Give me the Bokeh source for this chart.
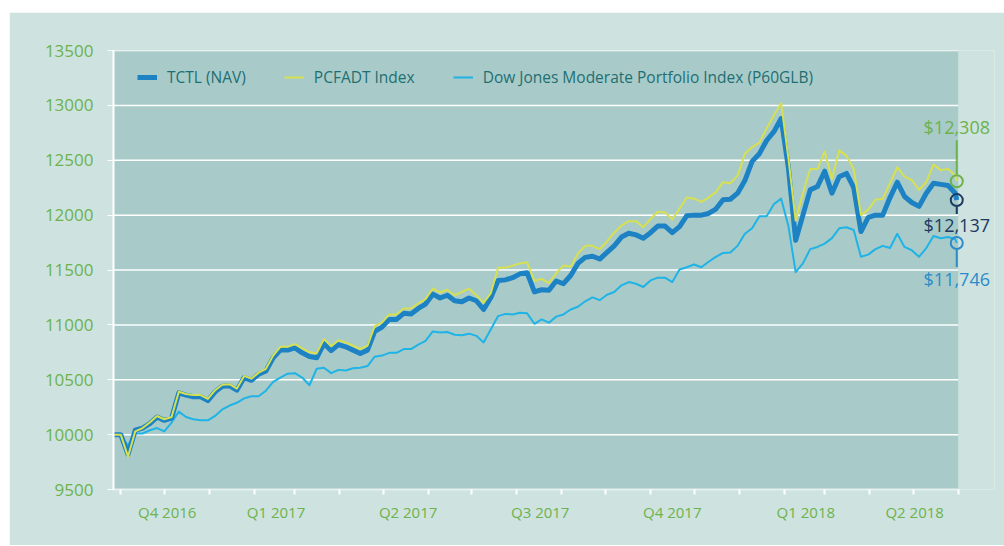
import pandas as pd
from bokeh.plotting import figure
from bokeh.models import FixedTicker, Legend, LegendItem, Range1d, Spacer
from bokeh.layouts import column, row
from bokeh.embed import file_html
from bokeh.resources import INLINE
from bokeh.core.properties import value

# ---------------- data ----------------
dates = pd.date_range("2016-10-27", periods=117, freq="5D").append(pd.DatetimeIndex(["2018-05-31"]))

tctl = [10000, 10000, 9820, 10040, 10060, 10100, 10160, 10130, 10150, 10380,
        10360, 10345, 10345, 10310, 10390, 10440, 10445, 10405, 10520, 10495,
        10550, 10580, 10700, 10770, 10770, 10790, 10745, 10712, 10700, 10830,
        10765, 10820, 10800, 10770, 10740, 10770, 10940, 10980, 11050, 11050,
        11105, 11100, 11150, 11190, 11280, 11245, 11270, 11220, 11210, 11245,
        11220, 11140, 11250, 11405, 11410, 11430, 11465, 11475, 11300, 11320,
        11315, 11400, 11375, 11450, 11560, 11615, 11625, 11600, 11660, 11720,
        11800, 11835, 11820, 11790, 11840, 11900, 11900, 11840, 11895, 11995,
        12000, 12000, 12015, 12055, 12140, 12145, 12200, 12315, 12490, 12560,
        12680, 12760, 12880, 12430, 11770, 12000, 12230, 12260, 12400, 12200,
        12350, 12380, 12250, 11850, 11980, 12000, 12000, 12160, 12300, 12170,
        12115, 12080, 12200, 12290, 12280, 12270, 12200, 12137]

pcfadt = [10000, 10000, 9800, 10030, 10060, 10110, 10170, 10140, 10160, 10390,
          10370, 10360, 10360, 10325, 10405, 10455, 10460, 10420, 10535, 10510,
          10565, 10600, 10720, 10800, 10800, 10825, 10785, 10750, 10740, 10870,
          10805, 10860, 10840, 10810, 10780, 10810, 10990, 11020, 11095, 11095,
          11150, 11150, 11195, 11235, 11330, 11295, 11320, 11270, 11300, 11330,
          11270, 11200, 11290, 11520, 11520, 11540, 11560, 11570, 11400, 11420,
          11380, 11470, 11540, 11530, 11650, 11720, 11720, 11690, 11760, 11840,
          11905, 11945, 11945, 11890, 11965, 12030, 12025, 11960, 12060, 12160,
          12150, 12120, 12160, 12210, 12300, 12290, 12360, 12560, 12620, 12660,
          12790, 12910, 13020, 12520, 11950, 12200, 12420, 12420, 12580, 12330,
          12590, 12540, 12420, 12000, 12050, 12140, 12150, 12290, 12435, 12350,
          12320, 12230, 12300, 12460, 12410, 12420, 12360, 12308]

djmp = [10000, 9990, 9900, 10010, 10010, 10040, 10060, 10030, 10110, 10210,
        10160, 10140, 10130, 10130, 10170, 10230, 10265, 10290, 10330, 10350,
        10350, 10400, 10480, 10520, 10555, 10560, 10520, 10450, 10600, 10610,
        10560, 10590, 10585, 10605, 10610, 10625, 10710, 10720, 10745, 10745,
        10780, 10780, 10820, 10855, 10940, 10930, 10935, 10910, 10905, 10920,
        10900, 10840, 10960, 11080, 11100, 11095, 11110, 11105, 11010, 11050,
        11020, 11075, 11095, 11140, 11165, 11215, 11250, 11225, 11275, 11300,
        11360, 11390, 11375, 11345, 11405, 11430, 11430, 11390, 11505, 11525,
        11550, 11525, 11575, 11620, 11655, 11660, 11720, 11830, 11880, 11990,
        11990, 12100, 12150, 11900, 11480, 11560, 11690, 11710, 11740, 11790,
        11880, 11890, 11865, 11620, 11640, 11690, 11720, 11700, 11830, 11710,
        11680, 11620, 11700, 11810, 11790, 11800, 11780, 11746]

series_names = ["TCTL (NAV)", "PCFADT Index", "Dow Jones Moderate Portfolio Index (P60GLB)"]
y_ticks = [9500, 10000, 10500, 11000, 11500, 12000, 12500, 13000, 13500]
quarter_labels = ["Q4 2016", "Q1 2017", "Q2 2017", "Q3 2017", "Q4 2017", "Q1 2018", "Q2 2018"]
quarter_label_dates = ["2016-12-03", "2017-02-16", "2017-05-18", "2017-08-17",
                       "2017-11-16", "2018-02-16", "2018-05-02"]
month_ticks = pd.date_range("2016-11-01", "2018-06-01", freq="MS")

# ---------------- style ----------------
OUTER = "#cee3df"
PLOT_BG = "#a8cbc9"
GREEN = "#6cb24d"
TCTL_C = "#1c82c4"
PCF_C = "#d6e050"
DJ_C = "#1fb3e6"
LEG_TXT = "#1f6f72"
NAVY = "#1c3a62"
BLUE_LBL = "#2d8bca"
FONT = "Open Sans"


def ms(d):
    return int(pd.Timestamp(d).value // 10**6)


x_start = ms("2016-10-27")
x_axis_end = ms("2018-06-01")
x_end = ms("2018-06-26")

p = figure(frame_width=881, frame_height=439,
           min_border_left=104, min_border_right=10, min_border_top=38, min_border_bottom=56,
           x_axis_type="datetime", output_backend="svg", toolbar_location=None,
           x_range=Range1d(x_start, x_end), y_range=Range1d(9500, 13500))
p.background_fill_color = OUTER
p.border_fill_color = OUTER
p.outline_line_color = None
p.xgrid.visible = False
p.ygrid.visible = False

# plot-area background and horizontal grid lines
p.quad(left=[x_start], right=[x_axis_end], bottom=[y_ticks[0]], top=[y_ticks[-1]],
       fill_color=PLOT_BG, line_color=None)
grid_levels = y_ticks[1:]
p.segment(x0=[x_start] * len(grid_levels), x1=[x_axis_end] * len(grid_levels),
          y0=grid_levels, y1=grid_levels, line_color="white", line_width=1.5)

# series
r_dj = p.line(dates, djmp, line_color=DJ_C, line_width=2, line_join="round")
r_tctl = p.line(dates, tctl, line_color=TCTL_C, line_width=5, line_join="round")
r_pcf = p.line(dates, pcfadt, line_color=PCF_C, line_width=2, line_join="round")

# end markers and labels
kpx = (y_ticks[-1] - y_ticks[0]) / 439.0
last = dates[-1]
ends = [(pcfadt[-1], GREEN, 7, 41, -54),
        (tctl[-1], NAVY, -7, -14, 25),
        (djmp[-1], BLUE_LBL, -7, -24, 36)]
for v, col, a, b, off in ends:
    p.segment(x0=[last], x1=[last], y0=[v + a * kpx], y1=[v + b * kpx],
              line_color=col, line_width=2)
    p.scatter([last], [v], marker="circle", size=12, fill_color=None,
              line_color=col, line_width=2)
    p.text([last], [v], text=["${:,.0f}".format(v)], text_align="center",
           text_baseline="middle", y_offset=off, text_color=col,
           text_font=value(FONT), text_font_size="18px")

# axes
yax = p.yaxis[0]
yax.ticker = FixedTicker(ticks=y_ticks)
yax.axis_line_color = "white"
yax.axis_line_width = 2
yax.major_tick_line_color = "white"
yax.major_tick_out = 6
yax.major_tick_in = 0
yax.minor_tick_line_color = None
yax.major_label_text_color = GREEN
yax.major_label_text_font = FONT
yax.major_label_text_font_size = "17px"
yax.major_label_standoff = 14

label_ticks = [ms(d) for d in quarter_label_dates]
xax = p.xaxis[0]
xax.ticker = FixedTicker(ticks=label_ticks, minor_ticks=[ms(d) for d in month_ticks])
xax.major_label_overrides = {t: lab for t, lab in zip(label_ticks, quarter_labels)}
xax.bounds = (x_start, x_axis_end)
xax.axis_line_color = "#e4f0ed"
xax.axis_line_width = 2
xax.major_tick_line_color = None
xax.major_tick_out = 5
xax.major_tick_in = 0
xax.minor_tick_line_color = "white"
xax.minor_tick_line_width = 2
xax.minor_tick_out = 5
xax.minor_tick_in = 0
xax.major_label_text_color = GREEN
xax.major_label_text_font = FONT
xax.major_label_text_font_size = "15px"
xax.major_label_standoff = 7

legend = Legend(items=[LegendItem(label=series_names[0], renderers=[r_tctl]),
                       LegendItem(label=series_names[1], renderers=[r_pcf]),
                       LegendItem(label=series_names[2], renderers=[r_dj])],
                orientation="horizontal", location=(24, 401),
                padding=0, margin=0, spacing=38, label_standoff=10,
                glyph_width=20, glyph_height=20, label_height=20,
                background_fill_alpha=0, border_line_color=None,
                label_text_color=LEG_TXT, label_text_font=FONT,
                label_text_font_size="15.5px")
p.add_layout(legend, "center")

layout = row(Spacer(width=9, height=545), column(Spacer(width=995, height=12), p, spacing=0), spacing=0)
open("out.html", "w").write(file_html(layout, INLINE))
